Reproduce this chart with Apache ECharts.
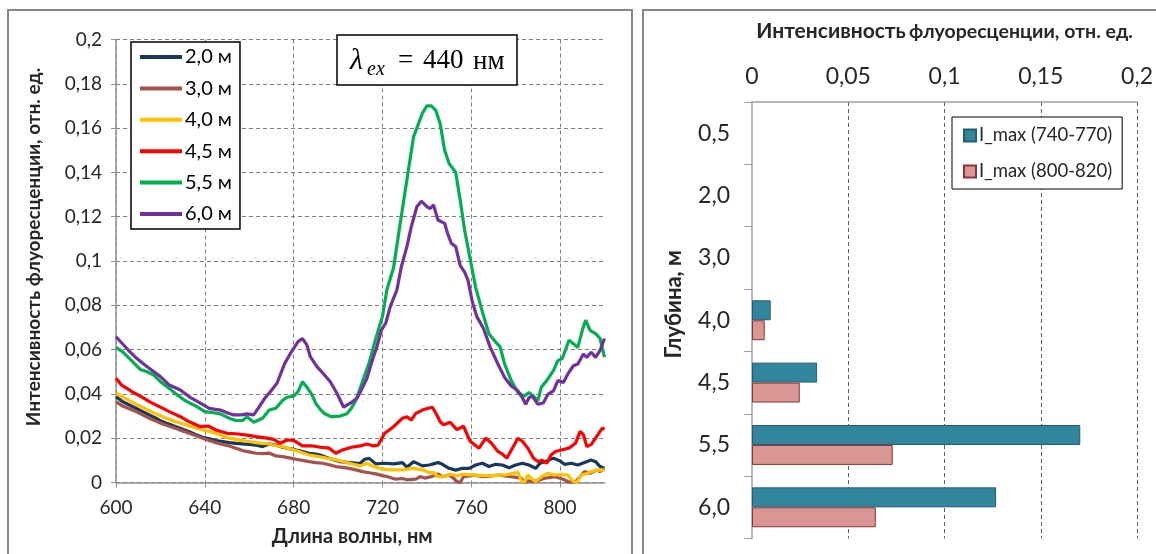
<!DOCTYPE html>
<html>
<head>
<meta charset="utf-8">
<script src="https://cdn.jsdelivr.net/npm/echarts@6/dist/echarts.min.js"></script>
<style>
  html, body { margin: 0; padding: 0; background: #fff; }
</style>
</head>
<body>
<div id="main" style="width: 1156px; height: 554px"></div>
<script>
// спектры флуоресценции, [длина волны нм, интенсивность]
const s20 = [[600,0.0387],[603,0.0365],[606,0.035],[609,0.0335],[612,0.032],[615,0.0305],[618,0.029],[621,0.0274],[624,0.0263],[627,0.0252],[630,0.024],[633,0.0229],[636,0.0216],[639,0.0204],[642,0.0197],[645,0.0189],[648,0.0185],[651,0.018],[654,0.0177],[657,0.0174],[660,0.0172],[663,0.0169],[666,0.0162],[669,0.0174],[672,0.0169],[675,0.0159],[678,0.0153],[681,0.0147],[684,0.014],[687,0.0132],[690,0.0128],[692,0.0124],[694,0.0116],[696,0.0109],[699,0.010],[701,0.0094],[705,0.009],[708,0.0088],[710,0.0087],[712,0.0105],[714,0.0109],[717,0.0084],[721,0.0087],[725,0.0084],[729,0.009],[731,0.0069],[734,0.0094],[738,0.0075],[741,0.0079],[743,0.0084],[745,0.009],[747,0.0082],[750,0.0064],[753,0.0056],[756,0.0064],[759,0.0064],[762,0.0079],[765,0.0087],[768,0.0072],[771,0.0082],[774,0.0079],[777,0.0067],[780,0.0079],[783,0.0087],[786,0.0079],[789,0.0064],[791,0.0087],[794,0.0097],[797,0.011],[800,0.0097],[802,0.0082],[805,0.0087],[808,0.0079],[811,0.009],[814,0.0102],[816,0.0094],[818,0.0072],[820,0.0064]];
const s30 = [[600,0.0365],[603,0.0345],[606,0.0333],[609,0.032],[612,0.0305],[615,0.029],[618,0.0277],[621,0.0264],[624,0.0254],[627,0.0244],[630,0.0233],[633,0.0222],[636,0.0211],[639,0.020],[642,0.019],[645,0.018],[648,0.0172],[651,0.0165],[654,0.0155],[657,0.0144],[660,0.0138],[663,0.0132],[666,0.013],[669,0.0133],[672,0.012],[675,0.0117],[678,0.0111],[681,0.0105],[684,0.010],[687,0.0094],[690,0.009],[693,0.0087],[696,0.008],[699,0.0072],[702,0.0068],[705,0.0064],[708,0.0057],[711,0.0049],[714,0.0044],[717,0.0039],[720,0.0031],[722,0.0027],[726,0.0015],[729,0.0018],[731,0.0012],[735,0.0015],[737,0.0027],[739,0.002],[741,0.0024],[743,0.003],[745,0.0039],[747,0.0026],[750,0.0034],[752,0.002],[753.5,0.0004],[755,0],[756.5,0.0026],[759,0.003],[761,0.0034],[764,0.0028],[766,0.0026],[769,0.003],[772,0.0034],[775,0.003],[778,0.0026],[781,0.0022],[782.5,0.0019],[784,0],[786,0.0008],[788,0.0004],[791,0.0012],[793,0.0019],[795,0.0022],[797.5,0.0026],[800,0.0019],[802,0.0012],[803.5,0.0004],[806.5,0],[809,0.0026],[811,0.0049],[813.5,0.0041],[816.5,0.0056],[818,0.005],[820,0.0064]];
const s40 = [[600,0.0405],[603,0.0387],[606,0.037],[609,0.0354],[612,0.0339],[615,0.0324],[618,0.031],[621,0.0297],[624,0.0285],[627,0.0274],[630,0.0265],[633,0.0255],[636,0.0246],[639,0.0237],[642,0.023],[645,0.0222],[648,0.021],[651,0.020],[654,0.0195],[657,0.0189],[660,0.0185],[663,0.018],[666,0.0177],[669,0.0174],[672,0.0166],[675,0.0162],[678,0.0153],[681,0.0144],[684,0.0134],[687,0.0124],[690,0.0119],[693,0.0114],[696,0.0108],[699,0.0102],[702,0.0095],[705,0.0087],[708,0.008],[710,0.0075],[713,0.0087],[716,0.0072],[720,0.006],[724,0.0057],[729,0.0057],[734,0.0064],[738,0.0057],[741,0.0046],[743,0.0045],[745,0.0026],[747.5,0.0026],[750.5,0.0037],[753.5,0.0031],[756.5,0.0037],[761,0.0034],[765.5,0.0031],[770,0.0031],[775,0.0034],[779,0.0041],[781,0.0046],[782.5,0.001],[784,0],[785.5,0.0034],[787,0.0019],[789,0.0004],[791.5,0.0026],[794.5,0.0041],[797.5,0.0034],[800.5,0.0037],[803.5,0.0034],[806,0.0004],[807.5,0],[809.5,0.0034],[812,0.0041],[814,0.0049],[817,0.0056],[820,0.0056]];
const s45 = [[600,0.047],[602.5,0.044],[606,0.0418],[608,0.0405],[611,0.039],[615,0.0365],[620,0.034],[624,0.032],[629,0.0297],[633,0.0274],[638,0.0252],[641.5,0.0255],[645,0.0237],[650,0.0222],[654,0.022],[659,0.0214],[663,0.0207],[668,0.020],[671,0.0195],[674,0.0177],[677,0.0192],[680,0.019],[682,0.0178],[684,0.0165],[688,0.0166],[692,0.0159],[696,0.0155],[699,0.0132],[702,0.0147],[706,0.0159],[710,0.0165],[713,0.0174],[716,0.0165],[718,0.0168],[721,0.0222],[725,0.0252],[729,0.029],[731,0.0297],[733,0.0282],[735,0.0312],[738,0.0327],[740.5,0.0335],[742.5,0.034],[744.5,0.0305],[746,0.0274],[747.5,0.0261],[750.5,0.0272],[753.5,0.0239],[756.5,0.0254],[759.5,0.0186],[763.5,0.0155],[766.5,0.020],[769,0.0178],[772,0.014],[774,0.0128],[776,0.011],[778.5,0.0155],[781,0.020],[783,0.0186],[785.5,0.0155],[788,0.011],[790,0.0095],[792,0.010],[794,0.0087],[796,0.0125],[798,0.014],[801,0.0148],[804,0.0155],[807,0.0178],[809,0.0231],[810.5,0.0216],[812,0.0163],[814,0.0171],[816.5,0.0208],[819,0.0246],[820,0.024]];
const s55 = [[600,0.061],[603,0.059],[606,0.056],[608,0.054],[611,0.051],[614,0.050],[617,0.0485],[620,0.0455],[624,0.0425],[627,0.040],[631,0.037],[636,0.0345],[640,0.032],[644,0.0315],[647,0.031],[651,0.029],[654,0.028],[657,0.028],[659,0.0297],[662,0.0272],[666,0.029],[669,0.0327],[672,0.0335],[675,0.037],[677,0.0385],[680,0.039],[682,0.041],[684,0.0455],[686,0.043],[688,0.040],[690,0.0357],[692,0.033],[694,0.031],[697,0.0297],[701,0.030],[704,0.031],[706,0.0335],[708,0.037],[711,0.0455],[714,0.054],[717,0.065],[720,0.075],[722,0.087],[725,0.097],[728,0.117],[731,0.1366],[734,0.156],[736,0.1614],[738,0.1667],[740,0.170],[742,0.170],[744,0.168],[746,0.162],[748,0.150],[750,0.144],[753,0.140],[755,0.1275],[757,0.114],[759,0.1035],[762,0.088],[765,0.077],[768,0.067],[771,0.0634],[773,0.0612],[775,0.0535],[778,0.046],[781,0.0406],[784,0.039],[786,0.0406],[788,0.039],[790,0.0368],[791.5,0.043],[794,0.046],[797,0.0505],[799,0.055],[801,0.056],[804,0.0642],[806,0.0626],[808,0.061],[810,0.0687],[811.5,0.0733],[813.5,0.0687],[816,0.0672],[818,0.065],[820,0.0566]];
const s60 = [[600,0.0658],[602.5,0.0631],[605.5,0.0598],[608.5,0.0568],[612,0.0538],[616,0.0508],[620,0.0478],[624,0.044],[629,0.0418],[633,0.0387],[638,0.0358],[642,0.0335],[647,0.0327],[650,0.0315],[653,0.0305],[656.5,0.0305],[659,0.031],[662,0.0305],[664,0.0335],[667,0.038],[669.5,0.041],[672.5,0.0448],[676,0.0538],[679,0.059],[682,0.0636],[684,0.065],[686,0.062],[687.5,0.0568],[690.5,0.0523],[693.5,0.049],[696.5,0.0455],[699.5,0.0403],[702.5,0.034],[705.5,0.0358],[708.5,0.038],[710.5,0.0418],[713,0.047],[715,0.0538],[717.5,0.0613],[719.5,0.0688],[721.5,0.072],[723.5,0.0794],[726.5,0.0869],[728.5,0.0974],[731,0.1065],[733,0.1155],[735.5,0.1245],[737.5,0.127],[740,0.1245],[741.5,0.1237],[743,0.1253],[745,0.1185],[748,0.117],[749.5,0.112],[751,0.108],[753,0.1065],[755,0.098],[757,0.095],[758.5,0.0914],[760.5,0.0815],[762.5,0.0749],[765.5,0.0695],[768.5,0.0611],[772,0.0535],[775,0.0474],[778,0.0436],[781,0.0414],[783,0.0383],[784.5,0.0353],[786,0.0383],[787.5,0.039],[790,0.0353],[792.5,0.036],[794.5,0.0398],[797,0.0414],[799,0.046],[801.5,0.0452],[803.5,0.049],[806,0.0527],[808,0.0535],[810.5,0.058],[812,0.0565],[814,0.0588],[816,0.0565],[818,0.0596],[820,0.065]];

const lineNames = ['2,0 м', '3,0 м', '4,0 м', '4,5 м', '5,5 м', '6,0 м'];
const lineColors = ['#17375E', '#A5524C', '#FFC000', '#FF0000', '#00B050', '#7030A0'];

// максимумы по глубинам
const depths = ['0,5', '2,0', '3,0', '4,0', '4,5', '5,5', '6,0'];
const imax740 = [null, null, null, 0.0097, 0.0338, 0.1705, 0.1268];
const imax800 = [null, null, null, 0.0066, 0.0248, 0.0731, 0.0643];

const font = 'Lato, "Noto Sans", sans-serif';
const txt = '#262626';
const comma = v => String(+(+v).toFixed(3)).replace('.', ',');
const dash = { color: '#7f7f7f', type: [4, 3], width: 1 };

const chart = echarts.init(document.getElementById('main'));

const lineSeries = [s20, s30, s40, s45, s55, s60].map((d, i) => ({
  name: lineNames[i],
  type: 'line',
  xAxisIndex: 0,
  yAxisIndex: 0,
  data: d,
  symbol: 'none',
  color: lineColors[i],
  lineStyle: { width: 3.2 }
}));

chart.setOption({
  animation: false,
  textStyle: { fontFamily: font },
  grid: [
    { left: 116, top: 39.5, width: 488.5, height: 443 },
    { left: 752, top: 102, width: 386, height: 436.5 }
  ],
  legend: [
    {
      data: lineNames,
      orient: 'vertical',
      left: 131, top: 42,
      icon: 'rect',
      itemWidth: 42, itemHeight: 4,
      itemGap: 11.4,
      padding: [5, 8, 5, 9],
      borderColor: '#000', borderWidth: 1.5,
      backgroundColor: '#fff',
      textStyle: { fontSize: 20, color: '#000', lineHeight: 20, padding: [0, 0, 0, -2] }
    },
    {
      data: ['I_max (740-770)', 'I_max (800-820)'],
      orient: 'vertical',
      left: 952, top: 117,
      icon: 'rect',
      itemWidth: 12, itemHeight: 12,
      itemGap: 17,
      padding: [9, 10, 8, 11],
      borderColor: '#000', borderWidth: 1,
      backgroundColor: '#fff',
      textStyle: { fontSize: 18.5, color: txt, lineHeight: 18, padding: [0, 0, 0, -2] }
    }
  ],
  xAxis: [
    {
      type: 'value', gridIndex: 0,
      min: 600, max: 820, interval: 40,
      name: 'Длина волны, нм', nameLocation: 'middle', nameGap: 44,
      nameTextStyle: { fontSize: 20, fontWeight: 'bold', color: txt, padding: [0, 16, 0, 0] },
      axisLine: { show: true, lineStyle: { color: '#909090', width: 1.5 } },
      axisTick: { show: true, length: 5, lineStyle: { color: '#909090' } },
      axisLabel: { fontSize: 19, color: txt, margin: 16, showMaxLabel: false },
      splitLine: { show: true, showMaxLine: false, lineStyle: dash }
    },
    {
      type: 'value', gridIndex: 1, position: 'top',
      min: 0, max: 0.2, interval: 0.05,
      name: '{a|Интенсивность} {b|флуоресценции, отн. ед.}',
      nameLocation: 'middle', nameGap: 60,
      nameTextStyle: {
        rich: {
          a: { fontSize: 21, fontWeight: 'bold', color: txt, fontFamily: font },
          b: { fontSize: 19.5, fontWeight: 'bold', color: txt, fontFamily: font }
        }
      },
      axisLine: { show: true, lineStyle: { color: '#a0a0a0', width: 1.5 } },
      axisTick: { show: false },
      axisLabel: { fontSize: 23, color: txt, margin: 14, formatter: comma },
      splitLine: { show: true, showMinLine: false, lineStyle: { color: '#606060', type: [4, 3], width: 1 } }
    }
  ],
  yAxis: [
    {
      type: 'value', gridIndex: 0,
      min: 0, max: 0.2, interval: 0.02,
      name: 'Интенсивность флуоресценции, отн. ед.',
      nameLocation: 'middle', nameGap: 73, nameRotate: 90,
      nameTextStyle: { fontSize: 19, fontWeight: 'bold', color: txt, padding: [0, 0, 0, 28] },
      axisLine: { show: true, lineStyle: { color: '#909090', width: 1.5 } },
      axisTick: { show: true, length: 5, lineStyle: { color: '#909090' } },
      axisLabel: { fontSize: 19, color: txt, margin: 14, formatter: comma },
      splitLine: { show: true, lineStyle: dash }
    },
    {
      type: 'category', gridIndex: 1, inverse: true,
      data: depths,
      name: 'Глубина, м',
      nameLocation: 'middle', nameGap: 67, nameRotate: 90,
      nameTextStyle: { fontSize: 22, fontWeight: 'bold', color: txt, padding: [0, 0, 0, 32] },
      axisLine: { show: true, lineStyle: { color: '#a0a0a0', width: 1.5 } },
      axisTick: { show: true, length: 8, lineStyle: { color: '#a0a0a0' } },
      axisLabel: { fontSize: 23, color: txt, margin: 22 },
      splitLine: { show: false }
    }
  ],
  series: lineSeries.concat([
    {
      name: 'I_max (740-770)', type: 'bar',
      xAxisIndex: 1, yAxisIndex: 1,
      data: imax740,
      barGap: 0, barCategoryGap: '36%',
      itemStyle: { color: '#31859C', borderColor: '#215E6E', borderWidth: 1 }
    },
    {
      name: 'I_max (800-820)', type: 'bar',
      xAxisIndex: 1, yAxisIndex: 1,
      data: imax800,
      barGap: 0, barCategoryGap: '36%',
      itemStyle: { color: '#D99694', borderColor: '#8B3535', borderWidth: 1 }
    }
  ]),
  graphic: [
    { type: 'rect', shape: { x: 8, y: 10, width: 624, height: 600 },
      style: { fill: 'none', stroke: '#888', lineWidth: 2 }, silent: true },
    { type: 'rect', shape: { x: 643, y: 10, width: 600, height: 600 },
      style: { fill: 'none', stroke: '#888', lineWidth: 2 }, silent: true },
    { type: 'rect', shape: { x: 337, y: 35, width: 180, height: 50 },
      style: { fill: '#fff', stroke: '#000', lineWidth: 1.5 }, z: 10 },
    { type: 'text', x: 350, y: 61, z: 11,
      style: { text: 'λ', font: 'italic 30px "Liberation Serif", serif', fill: '#000',
               textVerticalAlign: 'middle', verticalAlign: 'middle' } },
    { type: 'text', x: 367, y: 70, z: 11,
      style: { text: 'ex', font: 'italic 20px "Liberation Serif", serif', fill: '#000',
               textVerticalAlign: 'middle', verticalAlign: 'middle' } },
    { type: 'text', x: 398, y: 61, z: 11,
      style: { text: '=', font: '27px "Liberation Serif", serif', fill: '#000',
               textVerticalAlign: 'middle', verticalAlign: 'middle' } },
    { type: 'text', x: 423, y: 61, z: 11,
      style: { text: '440', font: '27px "Liberation Serif", serif', fill: '#000',
               textVerticalAlign: 'middle', verticalAlign: 'middle' } },
    { type: 'text', x: 473, y: 62, z: 11,
      style: { text: 'нм', font: '27px "Liberation Serif", serif', fill: '#000',
               textVerticalAlign: 'middle', verticalAlign: 'middle' } }
  ]
});
</script>
</body>
</html>
